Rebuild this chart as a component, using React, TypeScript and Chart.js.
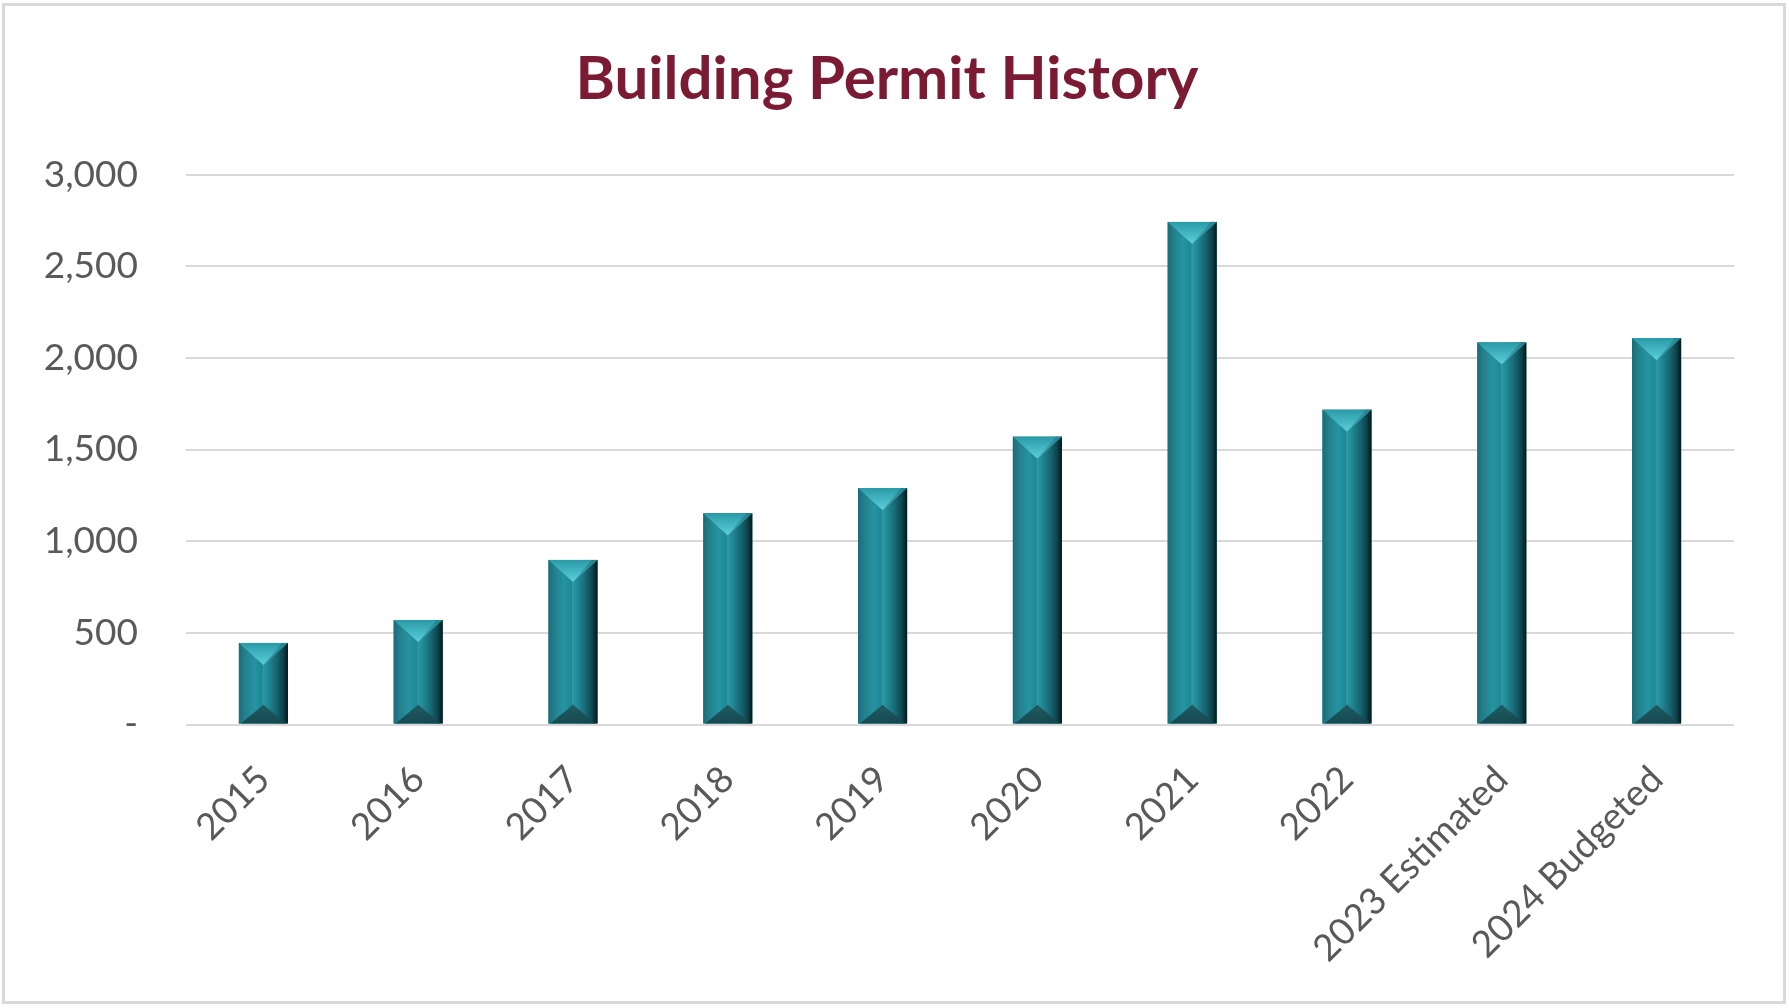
import React, { useEffect, useRef } from "react";
import { Chart, registerables } from "chart.js";

Chart.register(...registerables);

const categories = [
  "2015",
  "2016",
  "2017",
  "2018",
  "2019",
  "2020",
  "2021",
  "2022",
  "2023 Estimated",
  "2024 Budgeted",
];
const permits = [445, 570, 898, 1152, 1290, 1570, 2742, 1717, 2084, 2108];
const yTicks = [0, 500, 1000, 1500, 2000, 2500, 3000];
const titleText = "Building Permit History";

const bevelPlugin = {
  id: "bevel",
  afterDatasetsDraw(chart: any) {
    const ctx = chart.ctx as CanvasRenderingContext2D;
    const meta = chart.getDatasetMeta(0);
    meta.data.forEach((el: any) => {
      const { x, y, base, width } = el.getProps(["x", "y", "base", "width"], true);
      const l = x - width / 2;
      const r = x + width / 2;
      const t = Math.min(y, base);
      const b = Math.max(y, base);
      ctx.save();
      const g = ctx.createLinearGradient(l, 0, r, 0);
      g.addColorStop(0, "#1a6c77");
      g.addColorStop(0.12, "#237f8b");
      g.addColorStop(0.32, "#2594a1");
      g.addColorStop(0.48, "#1f8793");
      g.addColorStop(0.54, "#2693a0");
      g.addColorStop(0.76, "#176773");
      g.addColorStop(0.9, "#0d434b");
      g.addColorStop(1, "#03181b");
      ctx.fillStyle = g;
      ctx.fillRect(l, t, width, b - t);

      // bottom bevel
      const bh = Math.min(width * 0.38, (b - t) / 2);
      const bg = ctx.createLinearGradient(0, b - bh, 0, b);
      bg.addColorStop(0, "rgba(30,85,93,0.9)");
      bg.addColorStop(1, "rgba(22,70,77,0.95)");
      ctx.beginPath();
      ctx.moveTo(l + 2, b);
      ctx.lineTo(r - 2, b);
      ctx.lineTo(x, b - bh);
      ctx.closePath();
      ctx.fillStyle = bg;
      ctx.fill();

      // central ridge
      const th = Math.min(width * 0.45, (b - t) / 2);
      ctx.beginPath();
      ctx.moveTo(x, t + th);
      ctx.lineTo(x, b - bh);
      ctx.strokeStyle = "rgba(70,180,192,0.35)";
      ctx.lineWidth = 2;
      ctx.stroke();

      // top bevel
      const tg = ctx.createLinearGradient(0, t, 0, t + th);
      tg.addColorStop(0, "#2a9aa7");
      tg.addColorStop(1, "#5ccfdb");
      ctx.beginPath();
      ctx.moveTo(l, t);
      ctx.lineTo(r, t);
      ctx.lineTo(x, t + th);
      ctx.closePath();
      ctx.fillStyle = tg;
      ctx.fill();
      // darker right half of top bevel
      ctx.beginPath();
      ctx.moveTo(x, t + th);
      ctx.lineTo(r, t);
      ctx.lineTo(r - width * 0.12, t);
      ctx.closePath();
      ctx.fillStyle = "rgba(10,60,68,0.25)";
      ctx.fill();
      ctx.restore();
    });
  },
};

export default function App() {
  const canvasRef = useRef<HTMLCanvasElement | null>(null);

  useEffect(() => {
    if (!canvasRef.current) return;
    const chart = new Chart(canvasRef.current, {
      type: "bar",
      data: {
        labels: categories,
        datasets: [
          {
            data: permits,
            backgroundColor: "#1e7f8c",
            borderWidth: 0,
            barPercentage: 0.317,
            categoryPercentage: 1,
          },
        ],
      },
      plugins: [bevelPlugin],
      options: {
        responsive: false,
        animation: false,
        devicePixelRatio: 1,
        layout: { padding: { top: 0, left: 40, right: 55, bottom: 0 } },
        plugins: {
          legend: { display: false },
          tooltip: { enabled: false },
          title: {
            display: true,
            text: titleText,
            color: "#7a1a33",
            font: { family: "Lato", size: 60, weight: "bold", lineHeight: 1.2 },
            padding: { top: 44, bottom: 58.6 },
          },
        },
        scales: {
          x: {
            grid: { display: false, drawTicks: false },
            border: { display: false },
            ticks: {
              color: "#595959",
              font: { family: "Lato", size: 37 },
              maxRotation: 45,
              minRotation: 45,
              autoSkip: false,
              padding: 33,
            },
            afterFit: (scale: any) => {
              scale.height = 1008 - 724.5;
            },
          },
          y: {
            min: 0,
            max: 3000,
            afterBuildTicks: (scale: any) => {
              scale.ticks = yTicks.map((v) => ({ value: v }));
            },
            grid: { color: "#d9d9d9", lineWidth: 2, drawTicks: false },
            border: { display: false },
            ticks: {
              color: "#595959",
              font: { family: "Lato", size: 37 },
              padding: 48,
              callback: (v: any) => (Number(v) === 0 ? "-" : Number(v).toLocaleString("en-US")),
            },
            afterFit: (scale: any) => {
              scale.width = 186 - 40;
            },
          },
        },
      },
    });
    return () => chart.destroy();
  }, []);

  return (
    <div style={{ position: "absolute", left: 0, top: 0, width: 1789, height: 1008, background: "#fff" }}>
      <canvas ref={canvasRef} width={1789} height={1008} style={{ position: "absolute", left: 0, top: 0 }} />
      <div
        style={{
          position: "absolute",
          left: 2,
          top: 3,
          width: 1784,
          height: 1001,
          boxSizing: "border-box",
          border: "3px solid #d9d9d9",
          pointerEvents: "none",
        }}
      />
    </div>
  );
}
